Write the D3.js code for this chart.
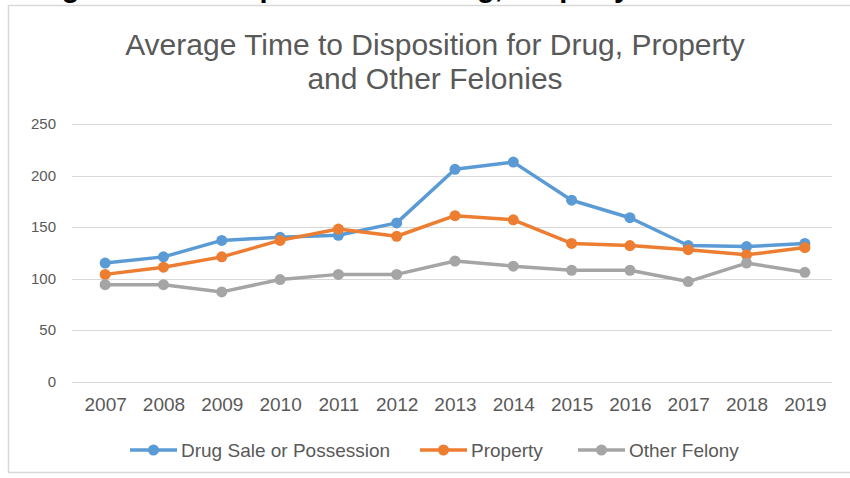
<!DOCTYPE html>
<html>
<head>
<meta charset="utf-8">
<script src="https://cdn.jsdelivr.net/npm/d3@7"></script>
<style>
  html, body { margin: 0; padding: 0; background: #fff; }
  svg { display: block; }
</style>
</head>
<body>
<svg id="chart" width="850" height="478"></svg>
<script>
const years = ["2007","2008","2009","2010","2011","2012","2013","2014","2015","2016","2017","2018","2019"];
const drugSale = [115, 121, 137, 140, 142, 154, 206, 213, 176, 159, 132, 131, 134];
const property = [104, 111, 121, 137, 148, 141, 161, 157, 134, 132, 128, 123, 130];
const otherFelony = [94, 94, 87, 99, 104, 104, 117, 112, 108, 108, 97, 115, 106];
const yTicks = [0, 50, 100, 150, 200, 250];
const seriesNames = ["Drug Sale or Possession", "Property", "Other Felony"];
const seriesColors = ["#5B9BD5", "#ED7D31", "#A5A5A5"];
const titleLines = ["Average Time to Disposition for Drug, Property", "and Other Felonies"];
const headerText = "Figure 4: Average Time to Disposition for Drug, Property and Other Felonies";

const series = [drugSale, property, otherFelony].map((v, i) => ({ name: seriesNames[i], color: seriesColors[i], values: v }));

const svg = d3.select("#chart");
const textColor = "#595959";
const font = "'Liberation Sans', Arial, sans-serif";

// cut-off document caption at the very top (only its descenders show, as in the source)
const hdr = svg.append("text")
  .attr("y", -3)
  .attr("font-family", font)
  .attr("font-weight", "bold")
  .attr("font-size", 29)
  .attr("fill", "#000")
  .text(headerText);
const gIdx = headerText.indexOf("Drug,") + 3;
const pre = hdr.node().getSubStringLength(0, gIdx);
hdr.attr("x", 477 - pre);

// chart frame
svg.append("rect")
  .attr("x", 8.5).attr("y", 5.5)
  .attr("width", 860).attr("height", 467)
  .attr("fill", "#fff")
  .attr("stroke", "#D9D9D9").attr("stroke-width", 1.5);

const x = d3.scalePoint().domain(years).range([76, 834]).padding(0.5);
const y = d3.scaleLinear().domain([0, 250]).range([381.5, 124]);

// gridlines
svg.append("g")
  .selectAll("line").data(yTicks).join("line")
  .attr("x1", 72).attr("x2", 832)
  .attr("y1", d => Math.round(y(d)) + 0.5).attr("y2", d => Math.round(y(d)) + 0.5)
  .attr("stroke", "#D9D9D9").attr("stroke-width", 1);

// y axis labels
const yAxis = svg.append("g").attr("transform", "translate(62,0)")
  .call(d3.axisLeft(y).tickValues(yTicks).tickSize(0).tickPadding(6));
yAxis.select(".domain").remove();
yAxis.selectAll("text")
  .attr("font-family", font).attr("font-size", 15).attr("fill", textColor);

// x axis labels
const xAxis = svg.append("g").attr("transform", "translate(0,392)")
  .call(d3.axisBottom(x).tickSize(0).tickPadding(6));
xAxis.select(".domain").remove();
xAxis.selectAll("text")
  .attr("font-family", font).attr("font-size", 19).attr("fill", textColor);

// title
svg.append("text")
  .attr("x", 435).attr("text-anchor", "middle")
  .attr("font-family", font).attr("font-size", 30).attr("fill", textColor)
  .selectAll("tspan").data(titleLines).join("tspan")
  .attr("x", 435)
  .attr("y", (d, i) => 55 + i * 34)
  .text(d => d);

// lines + markers
const line = d3.line().x((d, i) => x(years[i])).y(d => y(d));
series.forEach(s => {
  const g = svg.append("g");
  g.append("path")
    .attr("d", line(s.values))
    .attr("fill", "none")
    .attr("stroke", s.color)
    .attr("stroke-width", 3.5)
    .attr("stroke-linejoin", "round");
  g.selectAll("circle").data(s.values).join("circle")
    .attr("cx", (d, i) => x(years[i]))
    .attr("cy", d => y(d))
    .attr("r", 5.5)
    .attr("fill", s.color);
});

// legend
const legendX = [130, 420, 578];
const legend = svg.append("g");
series.forEach((s, i) => {
  const lg = legend.append("g").attr("transform", `translate(${legendX[i]},450)`);
  lg.append("line").attr("x1", 0).attr("x2", 47).attr("y1", 0).attr("y2", 0)
    .attr("stroke", s.color).attr("stroke-width", 3.5);
  lg.append("circle").attr("cx", 23.5).attr("cy", 0).attr("r", 5.5).attr("fill", s.color);
  lg.append("text").attr("x", 51).attr("y", 0).attr("dy", "0.35em")
    .attr("font-family", font).attr("font-size", 19).attr("fill", textColor)
    .text(s.name);
});
</script>
</body>
</html>
